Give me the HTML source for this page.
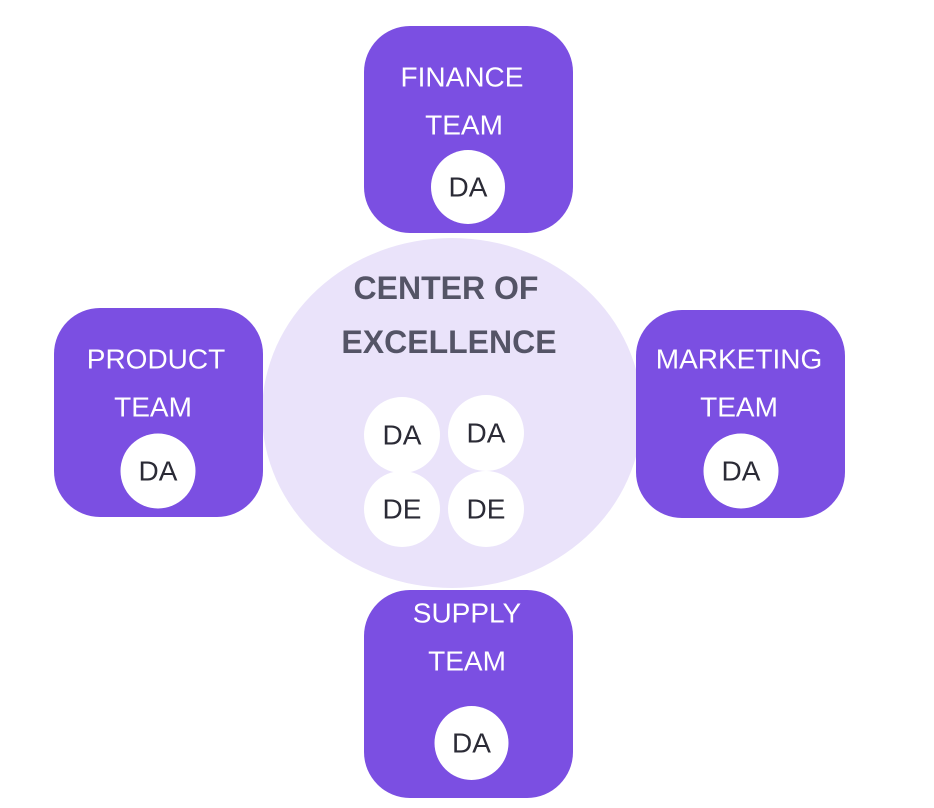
<!DOCTYPE html>
<html>
<head>
<meta charset="utf-8">
<style>
  html, body { margin: 0; padding: 0; background: #ffffff; }
  svg { display: block; }
  .lbl { font-family: "Liberation Sans", sans-serif; font-size: 28px; fill: #ffffff; text-anchor: middle; dominant-baseline: central; }
  .da { font-family: "Liberation Sans", sans-serif; font-size: 28px; fill: #2b2b36; text-anchor: middle; dominant-baseline: central; }
  .title { font-family: "Liberation Sans", sans-serif; font-size: 32px; font-weight: bold; fill: #545466; text-anchor: middle; dominant-baseline: central; }
</style>
</head>
<body>
<svg width="934" height="808" viewBox="0 0 934 808" xmlns="http://www.w3.org/2000/svg">
  <rect x="0" y="0" width="934" height="808" fill="#ffffff"/>

  <!-- Center ellipse -->
  <ellipse cx="452" cy="413" rx="190" ry="175" fill="#EAE3FA"/>

  <!-- Finance -->
  <rect x="364" y="26" width="209" height="207" rx="46" ry="46" fill="#7B4FE2"/>
  <text class="lbl" x="462" y="77">FINANCE</text>
  <text class="lbl" x="464" y="125">TEAM</text>
  <circle cx="468" cy="187" r="37" fill="#ffffff"/>
  <text class="da" x="468" y="187">DA</text>

  <!-- Product -->
  <rect x="54" y="308" width="209" height="209" rx="46" ry="46" fill="#7B4FE2"/>
  <text class="lbl" x="156" y="359">PRODUCT</text>
  <text class="lbl" x="153" y="407">TEAM</text>
  <circle cx="158" cy="471" r="37.5" fill="#ffffff"/>
  <text class="da" x="158" y="471">DA</text>

  <!-- Marketing -->
  <rect x="636" y="310" width="209" height="208" rx="46" ry="46" fill="#7B4FE2"/>
  <text class="lbl" x="739" y="359">MARKETING</text>
  <text class="lbl" x="739" y="407">TEAM</text>
  <circle cx="741" cy="471" r="37.5" fill="#ffffff"/>
  <text class="da" x="741" y="471">DA</text>

  <!-- Supply -->
  <rect x="364" y="590" width="209" height="208" rx="46" ry="46" fill="#7B4FE2"/>
  <text class="lbl" x="467" y="613">SUPPLY</text>
  <text class="lbl" x="467" y="661">TEAM</text>
  <circle cx="471.5" cy="743" r="37" fill="#ffffff"/>
  <text class="da" x="471.5" y="743">DA</text>

  <!-- Center title -->
  <text class="title" x="446" y="288">CENTER OF</text>
  <text class="title" x="449" y="342">EXCELLENCE</text>

  <!-- Inner circles -->
  <circle cx="402" cy="435" r="38" fill="#ffffff"/>
  <text class="da" x="402" y="435">DA</text>
  <circle cx="486" cy="433" r="38" fill="#ffffff"/>
  <text class="da" x="486" y="433">DA</text>
  <circle cx="402" cy="509" r="38" fill="#ffffff"/>
  <text class="da" x="402" y="509">DE</text>
  <circle cx="486" cy="509" r="38" fill="#ffffff"/>
  <text class="da" x="486" y="509">DE</text>
</svg>
</body>
</html>
